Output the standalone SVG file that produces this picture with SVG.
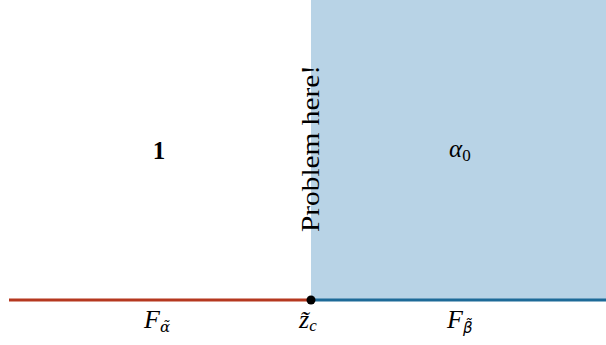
<svg xmlns="http://www.w3.org/2000/svg" width="606" height="345" viewBox="0 0 606 345">
<style>
text{font-family:'Liberation Serif','Times New Roman','DejaVu Serif',serif;fill:#000}
.it{font-style:italic}
.sub{font-size:17px}
.gk{font-family:'DejaVu Serif',serif;font-size:15px}
.gs{font-family:'DejaVu Sans',sans-serif;font-size:15px}
</style>
<rect width="606" height="345" fill="#fff"/>
<g id="region-alpha0">
<rect x="311" y="0" width="295" height="300" fill="#B8D3E6"/>
</g>
<g id="connectors">
<line x1="9" y1="300" x2="311" y2="300" stroke="#B5381F" stroke-width="3"/>
<line x1="311" y1="300" x2="606" y2="300" stroke="#1D6A98" stroke-width="3"/>
</g>
<g id="point-zc">
<circle cx="311" cy="300" r="4.5" fill="#000"/>
</g>
<g id="label-1">
<text x="159" y="159" font-size="25" font-weight="bold" text-anchor="middle">1</text>
</g>
<g id="label-alpha0">
<text x="449" y="157" font-size="25" class="it">α<tspan class="sub" font-style="normal" dy="4">0</tspan></text>
</g>
<g id="label-problem">
<text transform="translate(319,232) rotate(-90)" font-size="25" textLength="167" lengthAdjust="spacingAndGlyphs">Problem here!</text>
</g>
<g id="label-Falpha">
<text x="144" y="328" font-size="26" class="it">F<tspan class="gk" dy="4">α̃</tspan></text>
</g>
<g id="label-zc">
<text x="299" y="328" font-size="26" class="it">z̃<tspan class="sub" dy="3">c</tspan></text>
</g>
<g id="label-Fbeta">
<text x="447" y="328" font-size="26" class="it">F<tspan class="gs" dy="5">β̃</tspan></text>
</g>
</svg>
